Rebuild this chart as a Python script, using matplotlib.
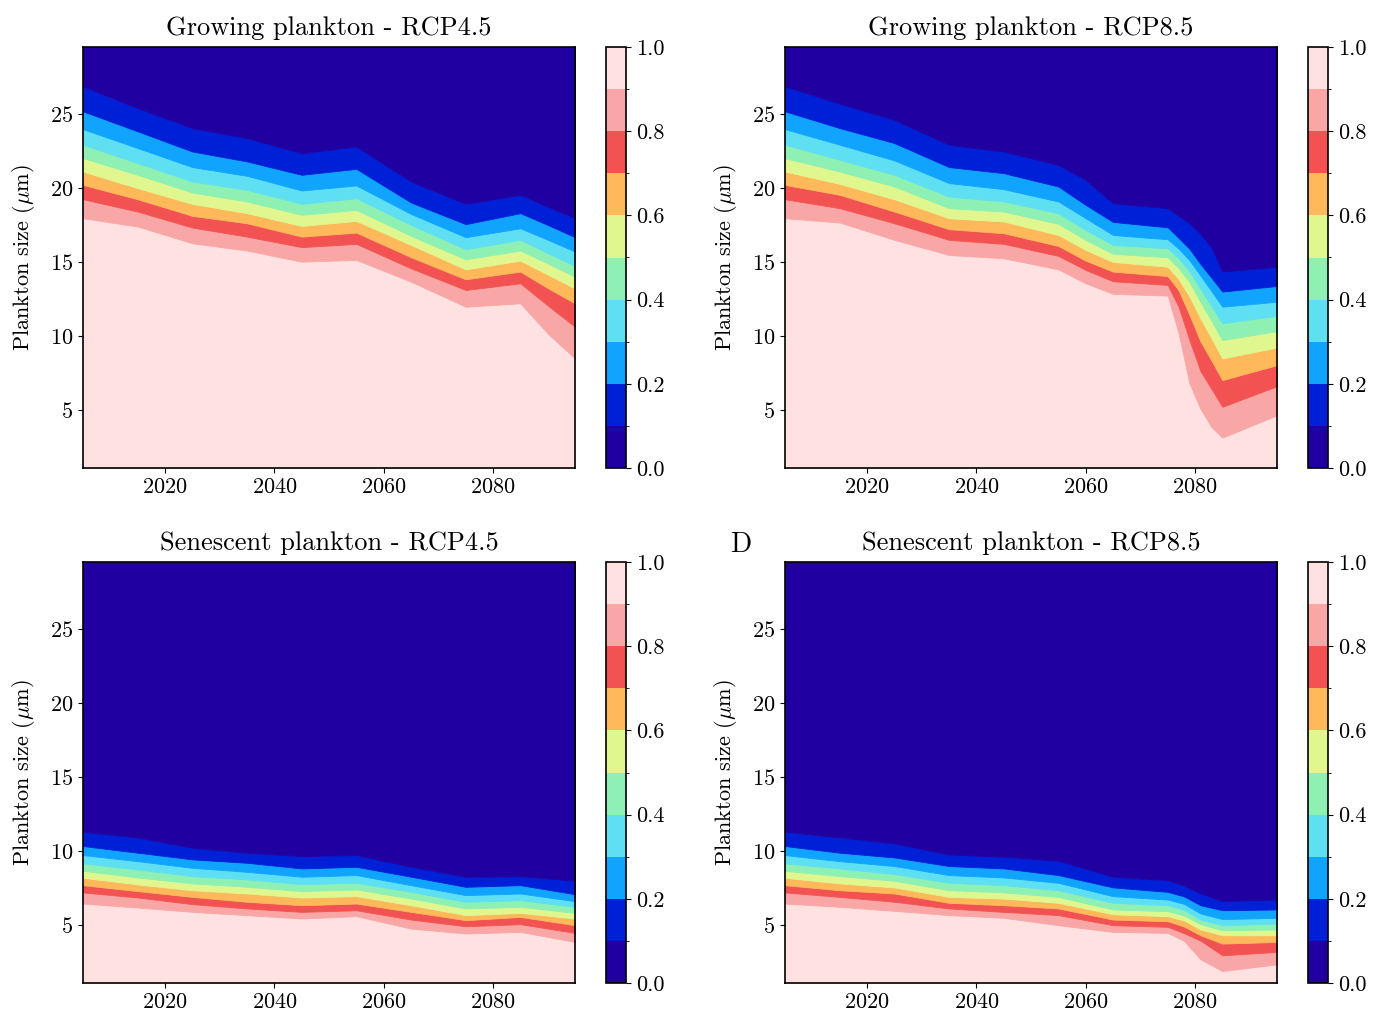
import numpy as np
import matplotlib
matplotlib.use("Agg")
import matplotlib.pyplot as plt
from matplotlib.ticker import FormatStrFormatter
from matplotlib.colors import ListedColormap, BoundaryNorm
from matplotlib.cm import ScalarMappable

plt.rcParams.update({
    "font.family": "serif",
    "font.serif": ["cmr10"],
    "mathtext.fontset": "cm",
    "axes.formatter.use_mathtext": True,
    "axes.unicode_minus": False,
    "font.size": 16,
})

# ---------------- data ----------------
LEVELS = [0.0, 0.1, 0.2, 0.3, 0.4, 0.5, 0.6, 0.7, 0.8, 0.9, 1.0]
BAND_COLORS = ["#2000a0", "#0020d8", "#10a4ff", "#5fdff2", "#8ef0b2",
               "#e0f78f", "#ffb85a", "#f25352", "#f9a6a6", "#ffe1e1"]
BOUNDARY_LEVELS = [0.9, 0.8, 0.7, 0.6, 0.5, 0.4, 0.3, 0.2, 0.1]
SIZE_MIN, SIZE_MAX = 1.1, 29.5
CBAR_TICKS = [0.0, 0.2, 0.4, 0.6, 0.8, 1.0]
X_TICKS = [2020, 2040, 2060, 2080]
Y_TICKS = [5, 10, 15, 20, 25]

TITLES = ["Growing plankton - RCP4.5", "Growing plankton - RCP8.5",
          "Senescent plankton - RCP4.5", "Senescent plankton - RCP8.5"]

# Plankton size (um) at which the fraction crosses each level (rows: 0.9 ... 0.1)
G45_YEARS = [2005, 2015, 2025, 2035, 2045, 2055, 2065, 2075, 2085, 2090, 2095]
G45_SIZES = [
    [17.95, 17.39, 16.26, 15.77, 15.02, 15.14, 13.67, 11.98, 12.21, 10.18, 8.49],   # 0.9
    [19.23, 18.40, 17.32, 16.71, 16.00, 16.22, 14.57, 13.11, 13.56, 12.07, 10.63],  # 0.8
    [20.20, 19.23, 18.11, 17.61, 16.71, 16.98, 15.32, 13.83, 14.35, 13.24, 12.21],  # 0.7
    [21.10, 19.98, 18.92, 18.29, 17.43, 17.77, 16.15, 14.50, 15.09, 14.15, 13.22],  # 0.6
    [22.00, 20.88, 19.68, 19.08, 18.18, 18.51, 16.76, 15.18, 15.77, 14.90, 14.01],  # 0.5
    [22.91, 21.67, 20.43, 19.86, 18.92, 19.30, 17.50, 15.86, 16.49, 15.60, 14.73],  # 0.4
    [23.96, 22.68, 21.40, 20.81, 19.82, 20.16, 18.24, 16.67, 17.27, 16.50, 15.70],  # 0.3
    [25.16, 23.81, 22.45, 21.78, 20.88, 21.28, 19.01, 17.55, 18.29, 17.50, 16.67],  # 0.2
    [26.85, 25.38, 24.03, 23.36, 22.34, 22.79, 20.43, 18.92, 19.53, 18.74, 17.95],  # 0.1
]

G85_YEARS = [2005, 2015, 2025, 2035, 2045, 2055, 2060, 2065, 2075, 2077, 2079, 2081, 2083, 2085, 2095]
G85_SIZES = [
    [17.95, 17.66, 16.49, 15.47, 15.25, 14.50, 13.56, 12.85, 12.73, 10.20, 6.80, 5.09, 3.87, 3.15, 4.66],
    [19.23, 18.63, 17.61, 16.49, 16.22, 15.41, 14.46, 13.70, 13.45, 11.98, 9.71, 7.64, 6.44, 5.23, 6.62],
    [20.20, 19.53, 18.40, 17.21, 16.94, 16.08, 15.09, 14.35, 14.05, 13.09, 11.42, 9.64, 8.36, 7.03, 8.04],
    [21.10, 20.27, 19.23, 17.95, 17.73, 16.82, 15.81, 15.00, 14.68, 13.85, 12.66, 11.19, 9.86, 8.49, 9.23],
    [22.00, 21.10, 20.09, 18.63, 18.40, 17.57, 16.49, 15.55, 15.32, 14.59, 13.63, 12.30, 11.04, 9.73, 10.34],
    [22.91, 21.89, 20.88, 19.41, 19.08, 18.29, 17.16, 16.15, 15.92, 15.25, 14.37, 13.18, 12.03, 10.86, 11.37],
    [23.96, 22.91, 21.85, 20.32, 19.91, 19.08, 17.95, 16.82, 16.53, 15.90, 15.11, 14.08, 13.04, 11.98, 12.32],
    [25.16, 24.03, 23.02, 21.40, 20.99, 20.09, 18.85, 17.70, 17.34, 16.62, 15.88, 14.86, 13.94, 13.00, 13.38],
    [26.85, 25.68, 24.59, 22.91, 22.45, 21.55, 20.54, 18.96, 18.63, 18.11, 17.61, 16.89, 16.01, 14.35, 14.68],
]

S45_YEARS = [2005, 2015, 2025, 2035, 2045, 2055, 2065, 2075, 2085, 2095]
S45_SIZES = [
    [6.46, 6.19, 5.90, 5.68, 5.45, 5.61, 4.77, 4.44, 4.55, 3.87],
    [7.21, 6.87, 6.42, 6.13, 5.90, 6.01, 5.38, 4.93, 5.07, 4.48],
    [7.70, 7.30, 6.91, 6.58, 6.35, 6.46, 5.90, 5.34, 5.56, 5.00],
    [8.20, 7.75, 7.36, 7.14, 6.87, 6.96, 6.35, 5.68, 5.83, 5.45],
    [8.67, 8.22, 7.82, 7.59, 7.30, 7.41, 6.80, 6.13, 6.24, 5.83],
    [9.17, 8.76, 8.31, 8.09, 7.77, 7.86, 7.25, 6.58, 6.69, 6.24],
    [9.73, 9.32, 8.87, 8.60, 8.27, 8.38, 7.70, 7.03, 7.14, 6.62],
    [10.34, 9.89, 9.44, 9.21, 8.83, 8.94, 8.27, 7.59, 7.70, 7.09],
    [11.31, 10.92, 10.23, 9.89, 9.66, 9.73, 8.94, 8.27, 8.31, 8.00],
]

S85_YEARS = [2005, 2015, 2025, 2035, 2045, 2055, 2065, 2075, 2078, 2081, 2085, 2095]
S85_SIZES = [
    [6.46, 6.24, 5.97, 5.68, 5.50, 5.00, 4.55, 4.48, 3.94, 2.70, 1.91, 2.36],
    [7.21, 6.91, 6.58, 6.13, 5.90, 5.68, 5.00, 4.89, 4.46, 3.96, 2.97, 3.20],
    [7.70, 7.36, 7.14, 6.51, 6.35, 6.13, 5.38, 5.27, 4.91, 4.32, 3.76, 3.87],
    [8.20, 7.82, 7.55, 6.91, 6.80, 6.51, 5.74, 5.61, 5.32, 4.71, 4.32, 4.32],
    [8.67, 8.31, 8.00, 7.36, 7.21, 6.91, 6.06, 5.95, 5.65, 5.07, 4.66, 4.71],
    [9.17, 8.83, 8.45, 7.86, 7.70, 7.36, 6.51, 6.35, 6.04, 5.38, 5.00, 5.11],
    [9.73, 9.32, 8.99, 8.38, 8.22, 7.86, 6.96, 6.73, 6.44, 5.79, 5.41, 5.50],
    [10.34, 9.89, 9.57, 8.99, 8.83, 8.38, 7.55, 7.25, 6.94, 6.35, 6.01, 6.06],
    [11.31, 10.92, 10.52, 9.77, 9.62, 9.35, 8.27, 8.04, 7.68, 7.14, 6.64, 6.73],
]

PANELS = [(G45_YEARS, G45_SIZES), (G85_YEARS, G85_SIZES),
          (S45_YEARS, S45_SIZES), (S85_YEARS, S85_SIZES)]

cmap = ListedColormap(BAND_COLORS)
norm = BoundaryNorm(LEVELS, cmap.N)

W, H = 1390, 1021
fig = plt.figure(figsize=(W / 100, H / 100), dpi=100)

ax_lefts = [83, 785, 83, 785]
ax_tops = [47, 47, 562, 562]
ax_w, ax_h = 492, 421
cb_lefts = [606, 1308, 606, 1308]
cb_w = 20

for i, ((years, bounds), title) in enumerate(zip(PANELS, TITLES)):
    ax = fig.add_axes([ax_lefts[i] / W, 1 - (ax_tops[i] + ax_h) / H, ax_w / W, ax_h / H])
    x = np.asarray(years, float)
    # stack of band edges from bottom (fraction 1) to top (fraction 0)
    edges = [np.full(len(x), SIZE_MIN)] + [np.asarray(r, float) for r in bounds] \
        + [np.full(len(x), SIZE_MAX)]
    # band k (from bottom) has colour of interval LEVELS[9-k]..LEVELS[10-k]
    for k in range(len(edges) - 1):
        ax.fill_between(x, edges[k], edges[k + 1], color=BAND_COLORS[9 - k],
                        linewidth=0.6, edgecolor=BAND_COLORS[9 - k])
    ax.set_xlim(2005, 2095)
    ax.set_ylim(SIZE_MIN, SIZE_MAX)
    ax.set_xticks(X_TICKS)
    ax.set_yticks(Y_TICKS)
    ax.set_title(title, fontsize=19, pad=9)
    ax.set_ylabel(r"Plankton size ($\mu$m)", fontsize=16, labelpad=9)
    ax.tick_params(labelsize=16)
    for sp in ax.spines.values():
        sp.set_linewidth(1.2)
        sp.set_zorder(5)

    cax = fig.add_axes([cb_lefts[i] / W, 1 - (ax_tops[i] + ax_h) / H, cb_w / W, ax_h / H])
    sm = ScalarMappable(norm=norm, cmap=cmap)
    cb = fig.colorbar(sm, cax=cax, ticks=CBAR_TICKS, boundaries=LEVELS)
    cb.ax.yaxis.set_major_formatter(FormatStrFormatter("%.1f"))
    cb.ax.tick_params(labelsize=16)
    cb.outline.set_linewidth(1.2)

fig.text(741 / W, 1 - 545 / H, "D", fontsize=20, ha="center", va="center")

fig.savefig("out.png", dpi=100)
